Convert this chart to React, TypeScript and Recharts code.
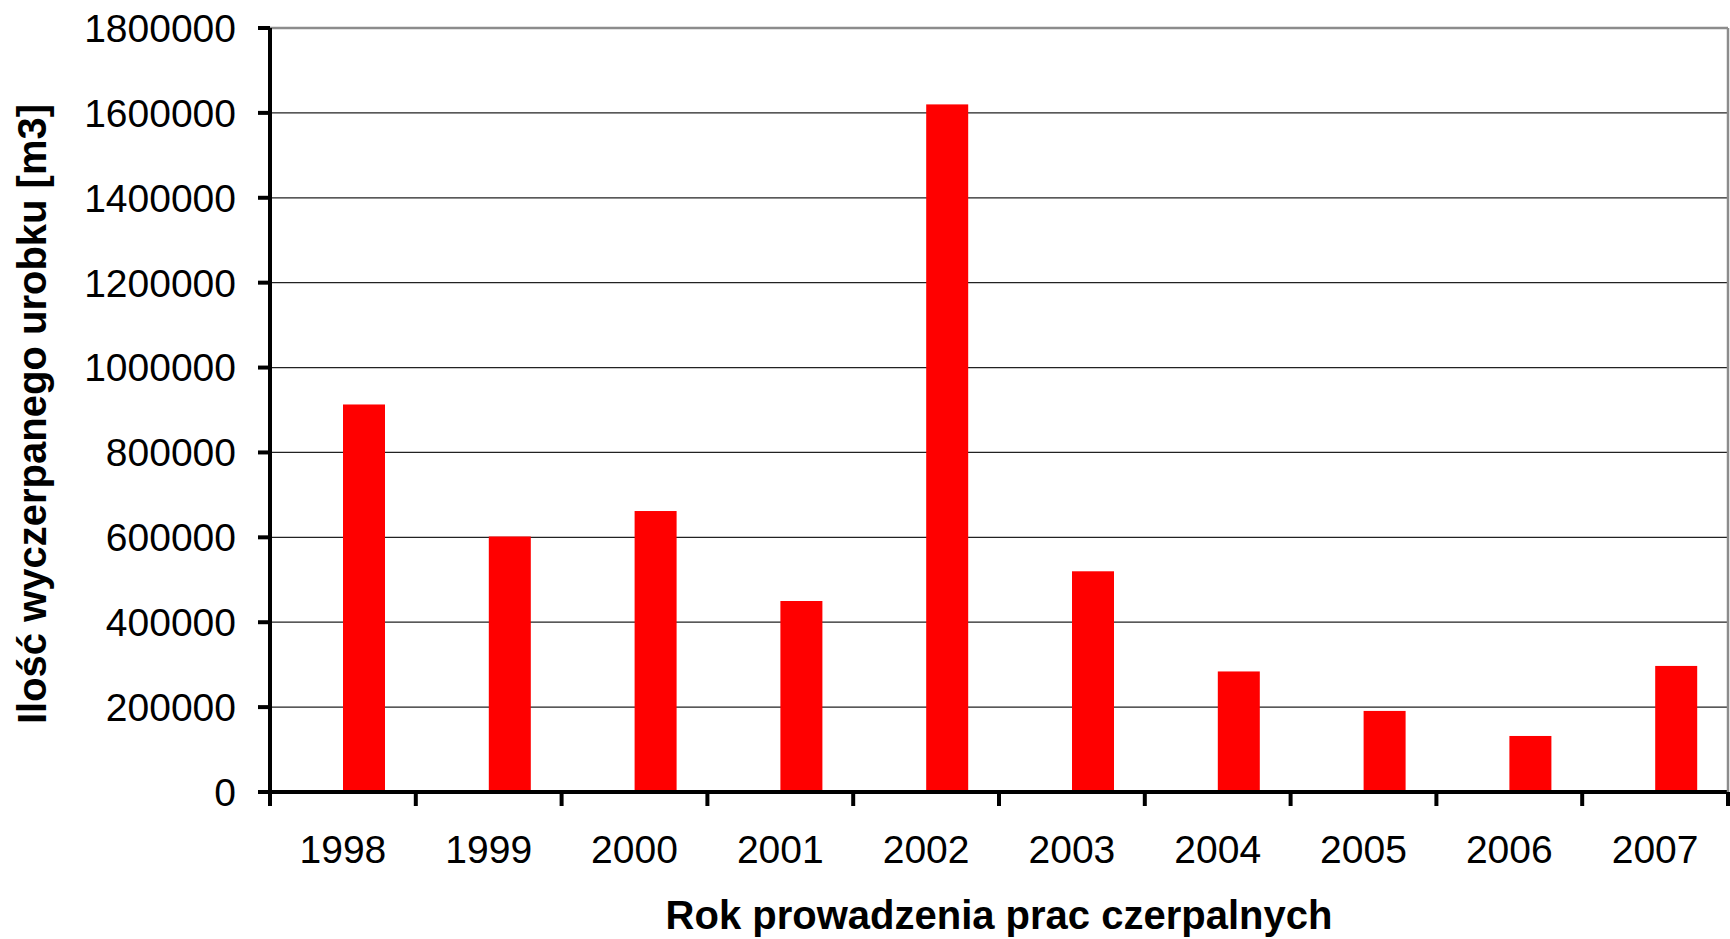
import { BarChart, Bar, XAxis, YAxis, CartesianGrid, ReferenceLine, Label } from "recharts";

const YEARS = ["1998", "1999", "2000", "2001", "2002", "2003", "2004", "2005", "2006", "2007"];
const VOLUMES = [913000, 602000, 662000, 450000, 1620000, 520000, 284000, 191000, 132000, 297000];
const Y_TICKS = [0, 200000, 400000, 600000, 800000, 1000000, 1200000, 1400000, 1600000, 1800000];

const X_TITLE = "Rok prowadzenia prac czerpalnych";
const Y_TITLE = "Ilość wyczerpanego urobku [m3]";

const FONT = "'Liberation Sans', Arial, sans-serif";
const RED = "#ff0000";
const BORDER = "#8c8c8c";
// bars in the original sit a bit right of the category centre
const BAR_SHIFT = 21;
const LABEL_GAP = 43;
const MARK_LEN = 14;

const data = YEARS.map((year, i) => ({ year, volume: VOLUMES[i] }));

function ShiftedBar(props: any) {
  const { x, y, width, height, fill } = props;
  if (!height) return null;
  return <rect x={x + BAR_SHIFT} y={y} width={width} height={height} fill={fill} />;
}

// year label in the middle of the band, tick marks on the band edges
function YearTick(props: any) {
  const { x, y, payload, index, visibleTicksCount } = props;
  const half = payload.offset || 0;
  const axisY = y - LABEL_GAP;
  const last = index === visibleTicksCount - 1;
  return (
    <g>
      <line x1={x - half} x2={x - half} y1={axisY} y2={axisY + MARK_LEN} stroke="#000" strokeWidth={4} />
      {last && (
        <line x1={x + half} x2={x + half} y1={axisY} y2={axisY + MARK_LEN} stroke="#000" strokeWidth={4} />
      )}
      <text x={x} y={y + 28} textAnchor="middle" fontFamily={FONT} fontSize={39} fill="#000">
        {payload.value}
      </text>
    </g>
  );
}

function YTitle({ viewBox }: any) {
  const cx = viewBox.x - 74;
  const cy = viewBox.y + viewBox.height / 2 + 4;
  return (
    <text
      x={cx}
      y={cy}
      transform={`rotate(-90 ${cx} ${cy})`}
      textAnchor="middle"
      fontFamily={FONT}
      fontWeight="bold"
      fontSize={40}
      fill="#000"
    >
      {Y_TITLE}
    </text>
  );
}

function XTitle({ viewBox }: any) {
  return (
    <text
      x={viewBox.x + viewBox.width / 2}
      y={viewBox.y + 137}
      textAnchor="middle"
      fontFamily={FONT}
      fontWeight="bold"
      fontSize={40}
      fill="#000"
    >
      {X_TITLE}
    </text>
  );
}

export default function App() {
  return (
    <div style={{ position: "absolute", left: 0, top: 0, background: "#fff" }}>
      <BarChart
        width={1730}
        height={939}
        data={data}
        margin={{ top: 28, right: 0, bottom: 47, left: 120 }}
        style={{ fontFamily: FONT }}
      >
        <CartesianGrid vertical={false} stroke="#222" strokeWidth={1.2} />
        <ReferenceLine y={1800000} stroke={BORDER} strokeWidth={2.5} />
        <Bar dataKey="volume" fill={RED} barSize={42} shape={ShiftedBar} isAnimationActive={false} />
        <XAxis
          dataKey="year"
          height={100}
          interval={0}
          tickLine={false}
          tickSize={0}
          tickMargin={LABEL_GAP}
          axisLine={{ stroke: "#000", strokeWidth: 4 }}
          tick={YearTick}
        >
          <Label content={XTitle} />
        </XAxis>
        <YAxis
          width={150}
          domain={[0, 1800000]}
          ticks={Y_TICKS}
          interval={0}
          tickSize={12}
          tickMargin={22}
          axisLine={{ stroke: "#000", strokeWidth: 4 }}
          tickLine={{ stroke: "#000", strokeWidth: 4 }}
          tick={{ fontSize: 39, fill: "#000", fontFamily: FONT }}
        >
          <Label content={YTitle} />
        </YAxis>
        {/* grey right edge of the plot area */}
        <YAxis
          yAxisId="frame"
          orientation="right"
          width={2}
          domain={[0, 1800000]}
          tick={false}
          tickLine={false}
          axisLine={{ stroke: BORDER, strokeWidth: 2.5 }}
        />
      </BarChart>
    </div>
  );
}
